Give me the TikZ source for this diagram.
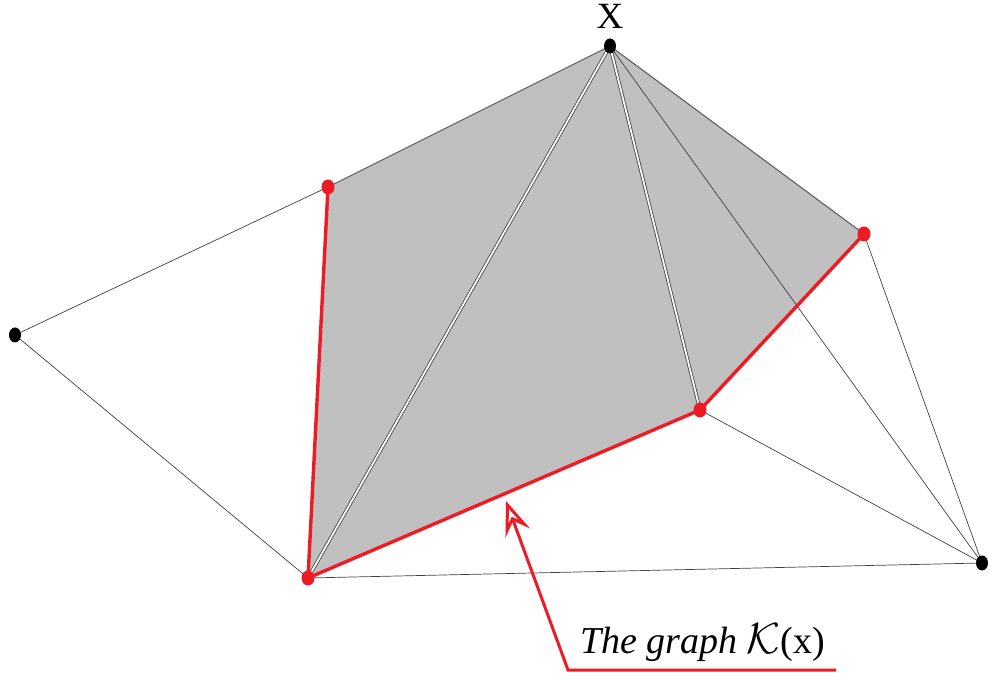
\documentclass[tikz,border=0pt]{standalone}
\usepackage{fontspec}
\setmainfont{Liberation Serif}
\usetikzlibrary{arrows.meta,shapes.geometric}
\definecolor{kred}{RGB}{237,28,36}
\definecolor{kgray}{RGB}{192,192,192}
\definecolor{kedge}{RGB}{95,95,95}
\begin{document}
\begin{tikzpicture}[x=1pt,y=1pt,
  bdot/.style={ellipse,fill=black,inner sep=0pt,minimum width=12pt,minimum height=15pt},
  rdot/.style={ellipse,fill=kred,inner sep=0pt,minimum width=13pt,minimum height=15pt},
  thinline/.style={draw=black!75,line width=0.7pt},
  dbl/.style={draw=black!75,double=white,double distance=1.8pt,line width=0.8pt},
  redline/.style={draw=kred,line width=3.4pt}]
\useasboundingbox (0,0) rectangle (992,682);
\coordinate (X) at (610,636);
\coordinate (A) at (328,495);
\coordinate (B) at (864,448);
\coordinate (C) at (700,272);
\coordinate (D) at (308,104);
\coordinate (L) at (15,347);
\coordinate (R) at (982,119);
% gray region
\fill[kgray] (X) -- (A) -- (D) -- (C) -- (B) -- cycle;
\draw[draw=kedge,line width=1.1pt] (A) -- (X) -- (B);
% thin lines
\draw[thinline] (L) -- (A);
\draw[thinline] (L) -- (D);
\draw[thinline] (D) -- (R);
\draw[thinline] (C) -- (R);
\draw[thinline] (B) -- (R);
\draw[thinline] (X) -- (R);
% double lines
\draw[dbl] (X) -- (D);
\draw[dbl] (X) -- (C);
% red path
\draw[redline,line join=round] (A) -- (D) -- (C) -- (B);
% dots
\node[bdot] (nX) at (X) {};
\node[bdot] (nL) at (L) {};
\node[bdot] (nR) at (R) {};
\node[rdot] (nA) at (A) {};
\node[rdot] (nB) at (B) {};
\node[rdot] (nC) at (C) {};
\node[rdot] (nD) at (D) {};
\node[font=\fontsize{37}{44}\selectfont,anchor=base,inner sep=0pt] (lX) at (610,653) {X};
% annotation
\coordinate (K1) at (836,12);
\coordinate (K0) at (568,12);
\coordinate (tip) at (506,181);
\draw[draw=kred,line width=3pt,-{Stealth[open,length=34pt,width=26pt,inset=13pt]}] (K1) -- (K0) -- (tip);
\node[font=\fontsize{38}{44}\selectfont,anchor=base west,inner sep=0pt] (lab) at (580,29) {\itshape The graph \scalebox{1.75}{$\mathcal{K}$}\upshape(x)};
\end{tikzpicture}
\end{document}
